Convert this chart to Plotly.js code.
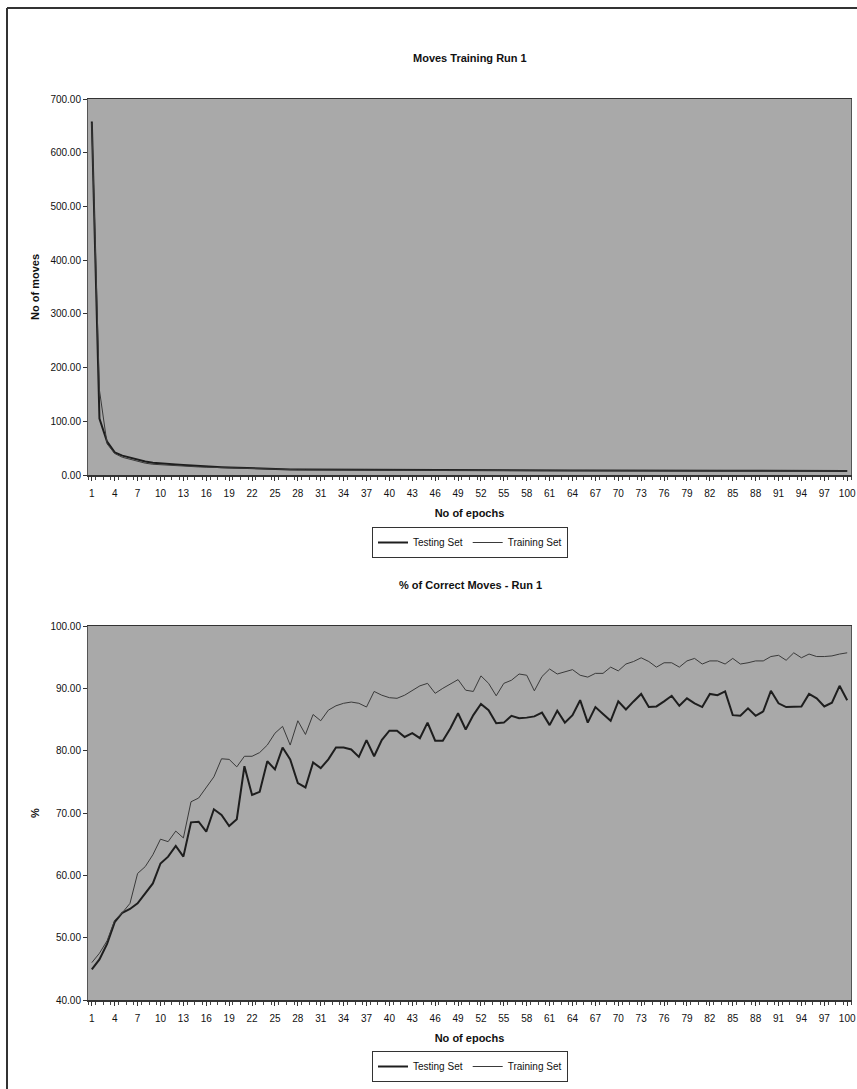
<!DOCTYPE html>
<html>
<head>
<meta charset="utf-8">
<script src="https://cdn.plot.ly/plotly-3.0.1.min.js"></script>
<style>
html,body{margin:0;padding:0;background:#fff;}
#chart{width:857px;height:1089px;}
</style>
</head>
<body>
<div id="chart"></div>
<script>
// Categories (epochs)
var epochs = [];
for (var i = 1; i <= 100; i++) epochs.push(i);
var epochTicks = [];
for (var k = 1; k <= 100; k += 3) epochTicks.push(k);

// Chart 1: number of moves
var movesTesting = [
  658,105,62,42,36,32,28,25,23,21.5,
  20.5,19.5,18.5,17.5,16.5,15.8,15.2,14.6,14.0,13.5,
  12.5,11.8,11.3,11.0,10.8,10.6,10.4,10.2,10.1,10.0,
  9.9,9.8,9.7,9.6,9.5,9.4,9.3,9.3,9.2,9.1,
  9.0,9.0,8.9,8.9,8.8,8.8,8.7,8.7,8.6,8.6,
  8.6,8.5,8.5,8.5,8.4,8.4,8.4,8.3,8.3,8.3,
  8.3,8.2,8.2,8.2,8.2,8.1,8.1,8.1,8.1,8.0,
  8.0,8.0,8.0,8.0,7.9,7.9,7.9,7.9,7.9,7.8,
  7.8,7.8,7.8,7.8,7.8,7.7,7.7,7.7,7.7,7.7,
  7.7,7.6,7.6,7.6,7.6,7.6,7.6,7.6,7.5,7.5
];
var movesTraining = [
  655,158,58,40,33,29,25,22,20,19,
  18,17,16.5,16,15,14.5,14,13.6,13.2,12.8,
  12,11.5,11,10.7,10.4,10.2,10,9.8,9.7,9.6,
  9.5,9.4,9.3,9.2,9.1,9.0,9.0,8.9,8.9,8.8,
  8.8,8.7,8.7,8.6,8.6,8.5,8.5,8.5,8.4,8.4,
  8.4,8.3,8.3,8.3,8.2,8.2,8.2,8.2,8.1,8.1,
  8.1,8.1,8.0,8.0,8.0,8.0,7.9,7.9,7.9,7.9,
  7.9,7.8,7.8,7.8,7.8,7.8,7.7,7.7,7.7,7.7,
  7.7,7.7,7.6,7.6,7.6,7.6,7.6,7.6,7.5,7.5,
  7.5,7.5,7.5,7.5,7.5,7.4,7.4,7.4,7.4,7.4
];

// Chart 2: % of correct moves
var pctTesting = [
  44.9,46.5,49.0,52.5,54.0,54.6,55.5,57.1,58.7,61.9,
  63.0,64.7,63.0,68.5,68.6,67.0,70.6,69.7,67.9,69.0,
  77.5,72.9,73.4,78.3,77.0,80.5,78.6,74.8,74.1,78.1,
  77.2,78.6,80.5,80.5,80.2,79.0,81.7,79.1,81.7,83.2,
  83.2,82.2,82.8,82.0,84.5,81.6,81.6,83.6,86.0,83.4,
  85.7,87.5,86.5,84.4,84.5,85.6,85.2,85.3,85.5,86.1,
  84.1,86.4,84.5,85.7,88.1,84.5,87.0,85.9,84.8,87.9,
  86.6,87.9,89.1,87.0,87.1,87.9,88.8,87.2,88.4,87.6,
  87.0,89.1,88.9,89.5,85.7,85.6,86.8,85.6,86.3,89.6,
  87.6,87.0,87.0,87.1,89.1,88.4,87.1,87.7,90.4,88.1
];
var pctTraining = [
  46.0,47.5,49.5,52.8,54.0,55.5,60.3,61.4,63.3,65.8,
  65.4,67.1,66.0,71.8,72.4,74.2,75.8,78.7,78.6,77.4,
  79.1,79.1,79.7,80.9,82.8,83.9,80.9,84.8,82.6,85.8,
  84.8,86.5,87.2,87.6,87.8,87.6,87.0,89.5,88.9,88.5,
  88.4,88.9,89.6,90.4,90.8,89.2,90.0,90.7,91.4,89.7,
  89.5,92.0,90.8,88.8,90.8,91.3,92.3,92.1,89.6,91.9,
  93.1,92.3,92.7,93.0,92.1,91.8,92.4,92.4,93.4,92.8,
  93.9,94.3,94.9,94.3,93.4,94.1,94.1,93.4,94.4,94.8,
  93.9,94.4,94.4,93.9,94.8,93.9,94.1,94.4,94.4,95.1,
  95.3,94.5,95.7,94.9,95.5,95.1,95.1,95.2,95.5,95.7
];

var FONT = 'Liberation Sans, Arial, sans-serif';
var testLine = {color:'#1e1e1e', width:2};
var trainLine = {color:'#3a3a3a', width:1};

var traces = [
  {x:epochs, y:movesTesting, name:'Testing Set', type:'scatter', mode:'lines', line:testLine, xaxis:'x', yaxis:'y', legend:'legend'},
  {x:epochs, y:movesTraining, name:'Training Set', type:'scatter', mode:'lines', line:trainLine, xaxis:'x', yaxis:'y', legend:'legend'},
  {x:epochs, y:pctTesting, name:'Testing Set', type:'scatter', mode:'lines', line:testLine, xaxis:'x2', yaxis:'y2', legend:'legend2'},
  {x:epochs, y:pctTraining, name:'Training Set', type:'scatter', mode:'lines', line:trainLine, xaxis:'x2', yaxis:'y2', legend:'legend2'}
];

var H = 1089, W = 857;
function py(p){ return 1 - p/H; }
function px(p){ return p/W; }

function xAxis(anchor, dom){
  return {
    domain: dom, anchor: anchor, range:[0.5,100.5], tickmode:'array', tickvals: epochTicks,
    ticks:'outside', ticklen:4, tickcolor:'#333', showgrid:false, zeroline:false,
    showline:true, linecolor:'#333', linewidth:1.5, mirror:true,
    ticklabelstandoff:4,
    tickfont:{family:FONT, size:10, color:'#111'},
    minor:{tick0:0.5, dtick:1, ticks:'outside', ticklen:3, tickcolor:'#444', showgrid:false},
    title:{text:'No of epochs', font:{family:FONT, size:11, color:'#111', weight:'bold'}, standoff:12}
  };
}
function yAxis(anchor, dom, range, dtick, title){
  return {
    domain: dom, anchor: anchor, range: range, dtick: dtick, tickformat:'.2f',
    ticks:'outside', ticklen:4, tickcolor:'#333', showgrid:false, zeroline:false,
    showline:true, linecolor:'#555', linewidth:1, mirror:true,
    tickfont:{family:FONT, size:10, color:'#111'},
    title:{text:title, font:{family:FONT, size:11, color:'#111', weight:'bold'}, standoff:8}
  };
}

var xdom = [px(88), px(851)];
var layout = {
  width: W, height: H,
  margin:{l:0, r:0, t:0, b:0},
  paper_bgcolor:'#ffffff',
  plot_bgcolor:'#a9a9a9',
  font:{family:FONT, color:'#111'},
  xaxis: xAxis('y', xdom),
  yaxis: yAxis('x', [py(475), py(99)], [0,700], 100, 'No of moves'),
  xaxis2: xAxis('y2', xdom),
  yaxis2: yAxis('x2', [py(1000), py(626)], [40,100], 10, '%'),
  legend:{orientation:'h', x:px(470), xanchor:'center', y:py(527), yanchor:'top',
    bordercolor:'#333', borderwidth:1, bgcolor:'#ffffff',
    font:{family:FONT, size:10, color:'#111'}, itemwidth:30, tracegroupgap:0},
  legend2:{orientation:'h', x:px(470), xanchor:'center', y:py(1051), yanchor:'top',
    bordercolor:'#333', borderwidth:1, bgcolor:'#ffffff',
    font:{family:FONT, size:10, color:'#111'}, itemwidth:30, tracegroupgap:0},
  annotations:[
    {text:'Moves Training Run 1', xref:'paper', yref:'paper', x:px(470), y:py(58), xanchor:'center', yanchor:'middle', showarrow:false,
     font:{family:FONT, size:11, color:'#111', weight:'bold'}},
    {text:'% of Correct Moves - Run 1', xref:'paper', yref:'paper', x:px(470), y:py(585), xanchor:'center', yanchor:'middle', showarrow:false,
     font:{family:FONT, size:11, color:'#111', weight:'bold'}}
  ],
  shapes:[
    {type:'line', xref:'paper', yref:'paper', x0:px(7), x1:px(7), y0:0, y1:py(8), line:{color:'#333', width:2}},
    {type:'line', xref:'paper', yref:'paper', x0:px(7), x1:1, y0:py(8), y1:py(8), line:{color:'#333', width:2}}
  ],
  showlegend:true
};

Plotly.newPlot('chart', traces, layout, {staticPlot:true, displayModeBar:false});
</script>
</body>
</html>
